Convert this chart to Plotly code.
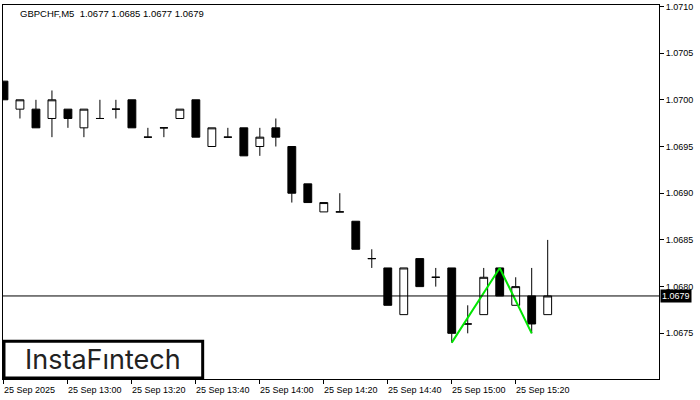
import plotly.graph_objects as go

# ---- data (GBPCHF M5, 25 Sep 2025, 12:40 .. 15:30) ----
opens  = [1.0702, 1.0699, 1.0699, 1.0698, 1.0699, 1.0697, 1.0698, 1.0699, 1.0700, 1.0696,
          1.0697, 1.0698, 1.0700, 1.0695, 1.0696, 1.0697, 1.0695, 1.0697, 1.0695, 1.0691,
          1.0688, 1.0688, 1.0687, 1.0683, 1.0682, 1.0677, 1.0683, 1.0681, 1.0682, 1.0676,
          1.0677, 1.0682, 1.0678, 1.0679, 1.0677]
highs  = [1.0702, 1.0700, 1.0700, 1.0701, 1.0699, 1.0699, 1.0700, 1.0700, 1.0700, 1.0697,
          1.0697, 1.0699, 1.0700, 1.0697, 1.0697, 1.0697, 1.0697, 1.0698, 1.0695, 1.0691,
          1.0689, 1.0690, 1.0687, 1.0684, 1.0682, 1.0682, 1.0683, 1.0682, 1.0682, 1.0678,
          1.0682, 1.0682, 1.0681, 1.0682, 1.0685]
lows   = [1.0700, 1.0698, 1.0697, 1.0696, 1.0697, 1.0696, 1.0698, 1.0698, 1.0697, 1.0696,
          1.0696, 1.0698, 1.0696, 1.0695, 1.0696, 1.0694, 1.0694, 1.0695, 1.0689, 1.0689,
          1.0688, 1.0688, 1.0684, 1.0682, 1.0678, 1.0677, 1.0680, 1.0680, 1.0674, 1.0675,
          1.0677, 1.0679, 1.0678, 1.0675, 1.0677]
closes = [1.0700, 1.0700, 1.0697, 1.0700, 1.0698, 1.0699, 1.0698, 1.0699, 1.0697, 1.0696,
          1.0697, 1.0699, 1.0696, 1.0697, 1.0696, 1.0694, 1.0696, 1.0696, 1.0690, 1.0689,
          1.0689, 1.0688, 1.0684, 1.0683, 1.0678, 1.0682, 1.0680, 1.0681, 1.0675, 1.0676,
          1.0681, 1.0679, 1.0680, 1.0676, 1.0679]

tick_idx    = [0, 4, 8, 12, 16, 20, 24, 28, 32]
tick_labels = ["25 Sep 2025", "25 Sep 13:00", "25 Sep 13:20", "25 Sep 13:40", "25 Sep 14:00",
               "25 Sep 14:20", "25 Sep 14:40", "25 Sep 15:00", "25 Sep 15:20"]
price_ticks = [1.0675, 1.0680, 1.0685, 1.0690, 1.0695, 1.0700, 1.0705, 1.0710]

pattern_idx   = [28, 31, 33]
pattern_price = [1.0674, 1.0682, 1.0675]

symbol = "GBPCHF,M5"

x = list(range(len(opens)))
FONT = "Liberation Sans"

fig = go.Figure()
fig.add_trace(go.Candlestick(
    x=x, open=opens, high=highs, low=lows, close=closes,
    increasing=dict(line=dict(color="black", width=1), fillcolor="white"),
    decreasing=dict(line=dict(color="black", width=1), fillcolor="black"),
    whiskerwidth=0, hoverinfo="skip", showlegend=False,
))
fig.add_trace(go.Scatter(
    x=pattern_idx, y=pattern_price, mode="lines",
    line=dict(color="#00e600", width=2), hoverinfo="skip", showlegend=False,
))

fig.add_hline(y=closes[-1], line=dict(color="black", width=1))

# x-axis labels (left aligned at ticks, MT4 style)
for ti, tl in zip(tick_idx, tick_labels):
    fig.add_annotation(x=ti, y=0, xref="x", yref="paper", text=tl, showarrow=False,
                       xanchor="left", yanchor="top", xshift=-2, yshift=-4,
                       font=dict(family=FONT, size=9, color="black"))

# current price label
fig.add_annotation(x=1, y=closes[-1], xref="paper", yref="y", text=f"{closes[-1]:.4f}",
                   showarrow=False, xanchor="left", yanchor="middle", xshift=1,
                   bgcolor="black", borderpad=1,
                   font=dict(family=FONT, size=9, color="white"))

# title
fig.add_annotation(x=0, y=1, xref="paper", yref="paper",
                   text=f"{symbol}\u00a0 {opens[-1]:.4f} {highs[-1]:.4f} {lows[-1]:.4f} {closes[-1]:.4f}",
                   showarrow=False, xanchor="left", yanchor="top", xshift=15, yshift=-1,
                   font=dict(family=FONT, size=9.5, color="black"))

# logo box
fig.add_shape(type="rect", xref="paper", yref="paper", x0=0.0015, x1=0.3044, y0=0.003, y1=0.101,
              line=dict(color="black", width=3), fillcolor="white", layer="above")
fig.add_annotation(x=0.152, y=0.053, xref="paper", yref="paper", text="InstaF\u0131ntech",
                   showarrow=False, xanchor="center", yanchor="middle",
                   font=dict(family="Inter", size=27, color="#222222", weight=400))

fig.update_layout(
    width=700, height=400,
    margin=dict(l=2, r=41, t=3, b=21),
    paper_bgcolor="white", plot_bgcolor="white",
    showlegend=False,
    xaxis=dict(range=[-0.06, 40.96], tickvals=tick_idx, showticklabels=False,
               ticks="outside", ticklen=4, tickcolor="black",
               showgrid=False, zeroline=False, showline=True, linecolor="black",
               linewidth=1, mirror=True, rangeslider=dict(visible=False), fixedrange=True),
    yaxis=dict(range=[1.067011, 1.071015], side="right", tickvals=price_ticks,
               tickformat=".4f", ticks="outside", ticklen=4, tickcolor="black",
               tickfont=dict(family=FONT, size=9, color="black"),
               ticklabeloverflow="allow",
               showgrid=False, zeroline=False, showline=True, linecolor="black",
               linewidth=1, mirror=True, fixedrange=True),
)

fig.write_html("out.html", config={"displayModeBar": False},
               post_script="document.body.style.margin='0';document.body.style.overflow='hidden';")
